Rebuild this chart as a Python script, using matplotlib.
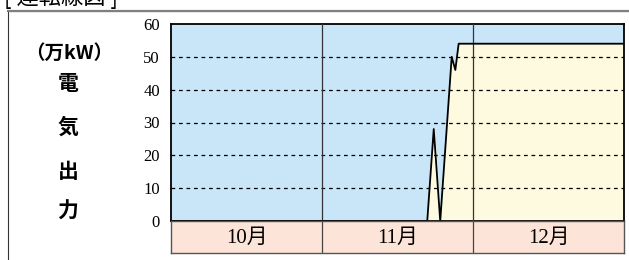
import matplotlib.pyplot as plt
from matplotlib.patches import Rectangle

# x position in months from Oct 1 (0 = start of Oct, 3 = end of Dec)
time_pos = [0.0, 1.697, 1.740, 1.783, 1.859, 1.883, 1.905, 3.0]
output = [0, 0, 28, 0, 50, 46, 54, 54]

months = ["10月", "11月", "12月"]
y_ticks = [0, 10, 20, 30, 40, 50, 60]
side_labels = ["電", "気", "出", "力"]

W, H = 629, 260
fig = plt.figure(figsize=(W / 100, H / 100), dpi=100)

# outer frame
fig.patches.append(Rectangle((8 / W, -0.1), 1.0, (H - 11) / H + 0.1, transform=fig.transFigure,
                             fill=False, edgecolor="#333333", linewidth=0.8))
fig.add_artist(plt.Line2D([8 / W, 1.0], [(H - 11) / H, (H - 11) / H], transform=fig.transFigure,
                          color="#808080", linewidth=1.6))

ax = fig.add_axes([171 / W, (H - 221) / H, (624 - 171) / W, 197 / H])
ax.set_facecolor("#C9E5F8")
ax.fill_between(time_pos, output, 0, color="#FDFAE0", zorder=1)
ax.plot(time_pos, output, color="black", linewidth=1.3, zorder=4)
for y in y_ticks[1:-1]:
    ax.axhline(y, color="black", linewidth=0.9, linestyle=(0, (3, 3)), zorder=2)
for m in (1, 2):
    ax.axvline(m, color="#333333", linewidth=0.9, zorder=3)
ax.set_xlim(0, 3)
ax.set_ylim(0, 60)
ax.set_xticks([])
ax.set_yticks(y_ticks)
ax.set_yticklabels([str(v) for v in y_ticks], family="Liberation Serif", fontsize=12)
ax.tick_params(axis="y", length=0, pad=8)
for s in ax.spines.values():
    s.set_linewidth(1.3)
    s.set_color("black")

band = fig.add_axes([171 / W, (H - 253) / H, (624 - 171) / W, 32 / H])
band.set_facecolor("#FDE4D9")
band.set_xlim(0, 3)
band.set_ylim(0, 1)
band.set_xticks([])
band.set_yticks([])
for m in (1, 2):
    band.axvline(m, color="#444444", linewidth=0.9)
for i, name in enumerate(months):
    band.text(i + 0.5, 0.47, name, ha="center", va="center", fontsize=15,
              family=["Liberation Serif", "Noto Sans CJK JP"])
for s in band.spines.values():
    s.set_linewidth(1.0)
    s.set_color("#555555")

jp = ["Noto Sans CJK JP", "DejaVu Sans"]
fig.text(69 / W, 1 - 53 / H, "（万kW）", ha="center", va="center", fontsize=14,
         fontweight="bold", family=jp)
for lab, yp in zip(side_labels, [83, 127, 171, 211]):
    fig.text(68 / W, 1 - yp / H, lab, ha="center", va="center", fontsize=15,
             fontweight="bold", family=jp)

fig.text(4 / W, 1 + 3 / H, "[ 運転線図 ]", ha="left", va="center", fontsize=16, family=jp)

fig.savefig("out.png", dpi=100)
